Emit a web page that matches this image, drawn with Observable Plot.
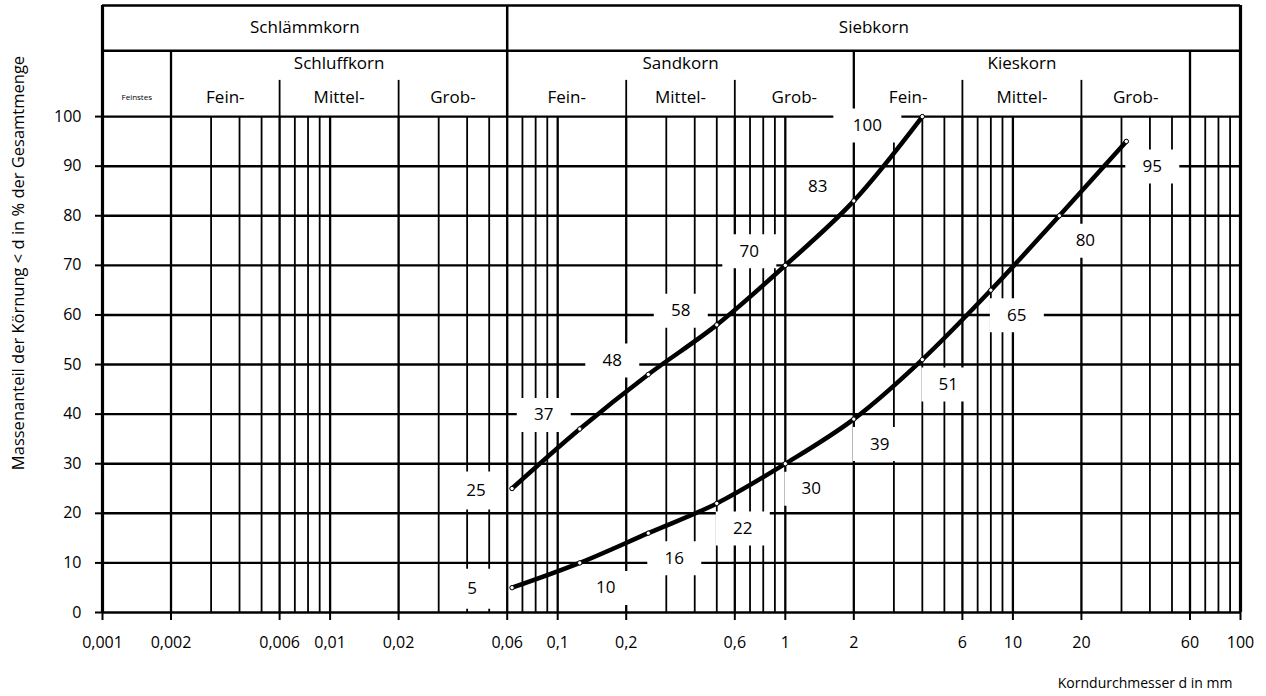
<!DOCTYPE html>
<html>
<head>
<meta charset="utf-8">
<script src="https://cdn.jsdelivr.net/npm/d3@7"></script>
<script src="https://cdn.jsdelivr.net/npm/@observablehq/plot@0.6"></script>
<style>
  html, body { margin: 0; padding: 0; background: #fff; }
  #chart svg { display: block; }
</style>
</head>
<body>
<div id="chart"></div>
<script>
// ---------------- data ----------------
const sieveSizes = [0.063, 0.125, 0.25, 0.5, 1, 2, 4, 8, 16, 31.5];       // mm
const passingFine = [25, 37, 48, 58, 70, 83, 100];                          // % (first 7 sieves)
const passingCoarse = [5, 10, 16, 22, 30, 39, 51, 65, 80, 95];              // %

const xTickValues = [0.001, 0.002, 0.006, 0.01, 0.02, 0.06, 0.1, 0.2, 0.6, 1, 2, 6, 10, 20, 60, 100];
const xTickLabels = ["0,001", "0,002", "0,006", "0,01", "0,02", "0,06", "0,1", "0,2", "0,6", "1", "2", "6", "10", "20", "60", "100"];
const yTickValues = [0, 10, 20, 30, 40, 50, 60, 70, 80, 90, 100];

const mainGroupLabels = ["Schlämmkorn", "Siebkorn"];
const mainGroupBounds = [[0.001, 0.06], [0.06, 100]];
const subGroupLabels = ["Schluffkorn", "Sandkorn", "Kieskorn"];
const subGroupBounds = [[0.002, 0.06], [0.06, 2], [2, 60]];
const finestLabel = "Feinstes";
const finestBounds = [0.001, 0.002];
const fractionLabels = ["Fein-", "Mittel-", "Grob-", "Fein-", "Mittel-", "Grob-", "Fein-", "Mittel-", "Grob-"];
const fractionBounds = [[0.002, 0.006], [0.006, 0.02], [0.02, 0.06], [0.06, 0.2], [0.2, 0.6], [0.6, 2], [2, 6], [6, 20], [20, 60]];

const yLabel = "Massenanteil der Körnung < d in % der Gesamtmenge";
const xLabel = "Korndurchmesser d in mm";

// ---------------- derived tables ----------------
const fine = passingFine.map((p, i) => ({d: sieveSizes[i], p}));
const coarse = passingCoarse.map((p, i) => ({d: sieveSizes[i], p}));
const gmean = ([a, b]) => Math.sqrt(a * b);

const allGrid = d3.scaleLog().domain([0.001, 100]).ticks();
const minorGrid = allGrid.filter(v => !xTickValues.some(t => Math.abs(t - v) / t < 1e-9));
const majorGrid = xTickValues.filter(v => v !== 0.001 && v !== 100);

// header layout (in y units above 100)
const Y_TOP = 122.4, Y_ROW = 113.3, Y_SUBDIV = 107.3;
const Y_MAIN_TXT = 117.9, Y_SUB_TXT = 110.7, Y_FRAC_TXT = 103.8;

const FONT = "'Open Sans', sans-serif";

const box = (w, h) => ({
  draw(ctx) {
    ctx.moveTo(-w / 2, -h / 2);
    ctx.lineTo(w / 2, -h / 2);
    ctx.lineTo(w / 2, h / 2);
    ctx.lineTo(-w / 2, h / 2);
    ctx.closePath();
  }
});

function labels(data, {dx, dy, w, h}) {
  return [
    Plot.dot(data, {x: "d", y: "p", dx, dy, r: 5, symbol: box(w, h), fill: "white", stroke: "none"}),
    Plot.text(data, {x: "d", y: "p", dx, dy, text: d => String(d.p), fontSize: 17, fill: "black"})
  ];
}

const chart = Plot.plot({
  width: 1266,
  height: 696,
  marginLeft: 102,
  marginRight: 26,
  marginTop: 5,
  marginBottom: 84,
  style: {fontFamily: FONT, fontSize: "16px", color: "black", background: "white"},
  x: {type: "log", domain: [0.001, 100]},
  y: {domain: [0, Y_TOP]},
  marks: [
    // grid
    Plot.ruleX(minorGrid, {y1: 0, y2: 100, stroke: "black", strokeWidth: 1.8}),
    Plot.ruleX(majorGrid, {y1: 0, y2: 100, stroke: "black", strokeWidth: 2.3}),
    Plot.ruleY(yTickValues, {x1: 0.001, x2: 100, stroke: "black", strokeWidth: 2.4}),
    // header rules
    Plot.ruleY([Y_TOP, Y_ROW], {x1: 0.001, x2: 100, stroke: "black", strokeWidth: 2.5}),
    Plot.ruleX([0.001, 100], {y1: 0, y2: Y_TOP, stroke: "black", strokeWidth: 3.2}),
    Plot.ruleX([0.06], {y1: 100, y2: Y_TOP, stroke: "black", strokeWidth: 2.5}),
    Plot.ruleX([finestBounds[1], subGroupBounds[1][1], subGroupBounds[2][1]], {y1: 100, y2: Y_ROW, stroke: "black", strokeWidth: 2.3}),
    Plot.ruleX([0.006, 0.02, 0.2, 0.6, 6, 20], {y1: 100, y2: Y_SUBDIV, stroke: "black", strokeWidth: 1.8}),
    // header text
    Plot.text(mainGroupLabels, {x: (d, i) => gmean(mainGroupBounds[i]), y: Y_MAIN_TXT, text: d => d, fontSize: 17}),
    Plot.text(subGroupLabels, {x: (d, i) => gmean(subGroupBounds[i]), y: Y_SUB_TXT, text: d => d, fontSize: 17}),
    Plot.text(fractionLabels, {x: (d, i) => gmean(fractionBounds[i]), y: Y_FRAC_TXT, text: d => d, fontSize: 17}),
    Plot.text([finestLabel], {x: gmean(finestBounds), y: Y_FRAC_TXT, text: d => d, fontSize: 8}),
    // value label boxes
    ...labels(fine.slice(0, 1), {dx: -36, dy: 2, w: 48, h: 38}),
    ...labels(fine.slice(1, 6), {dx: -36, dy: -14, w: 54, h: 34}),
    ...labels(fine.slice(6), {dx: -55, dy: 9, w: 68, h: 34}),
    ...labels(coarse.slice(0, 1), {dx: -40, dy: 1, w: 44, h: 40}),
    ...labels(coarse.slice(1), {dx: 26, dy: 25, w: 54, h: 34}),
    // curves
    Plot.line(fine, {x: "d", y: "p", curve: "catmull-rom", stroke: "black", strokeWidth: 4.5}),
    Plot.line(coarse, {x: "d", y: "p", curve: "catmull-rom", stroke: "black", strokeWidth: 4.5}),
    Plot.dot(fine, {x: "d", y: "p", r: 2.2, fill: "white", stroke: "black", strokeWidth: 1}),
    Plot.dot(coarse, {x: "d", y: "p", r: 2.2, fill: "white", stroke: "black", strokeWidth: 1}),
    // axes
    Plot.axisX({ticks: xTickValues, tickFormat: () => "", tickSize: 8, label: null, strokeWidth: 2}),
    Plot.text(xTickValues, {x: d => d, frameAnchor: "bottom", dy: 35, text: (d, i) => xTickLabels[i], fontSize: 16}),
    Plot.axisY({ticks: yTickValues, tickSize: 7, tickPadding: 14, fontSize: 16, label: null, strokeWidth: 2}),
    Plot.text([yLabel], {frameAnchor: "left", textAnchor: "middle", rotate: -90, dx: -84, dy: -46, text: d => d, fontSize: 16.5}),
    Plot.text([xLabel], {frameAnchor: "bottom-right", dx: -8, dy: 75, textAnchor: "end", text: d => d, fontSize: 14})
  ]
});

document.getElementById("chart").appendChild(chart);
</script>
</body>
</html>
